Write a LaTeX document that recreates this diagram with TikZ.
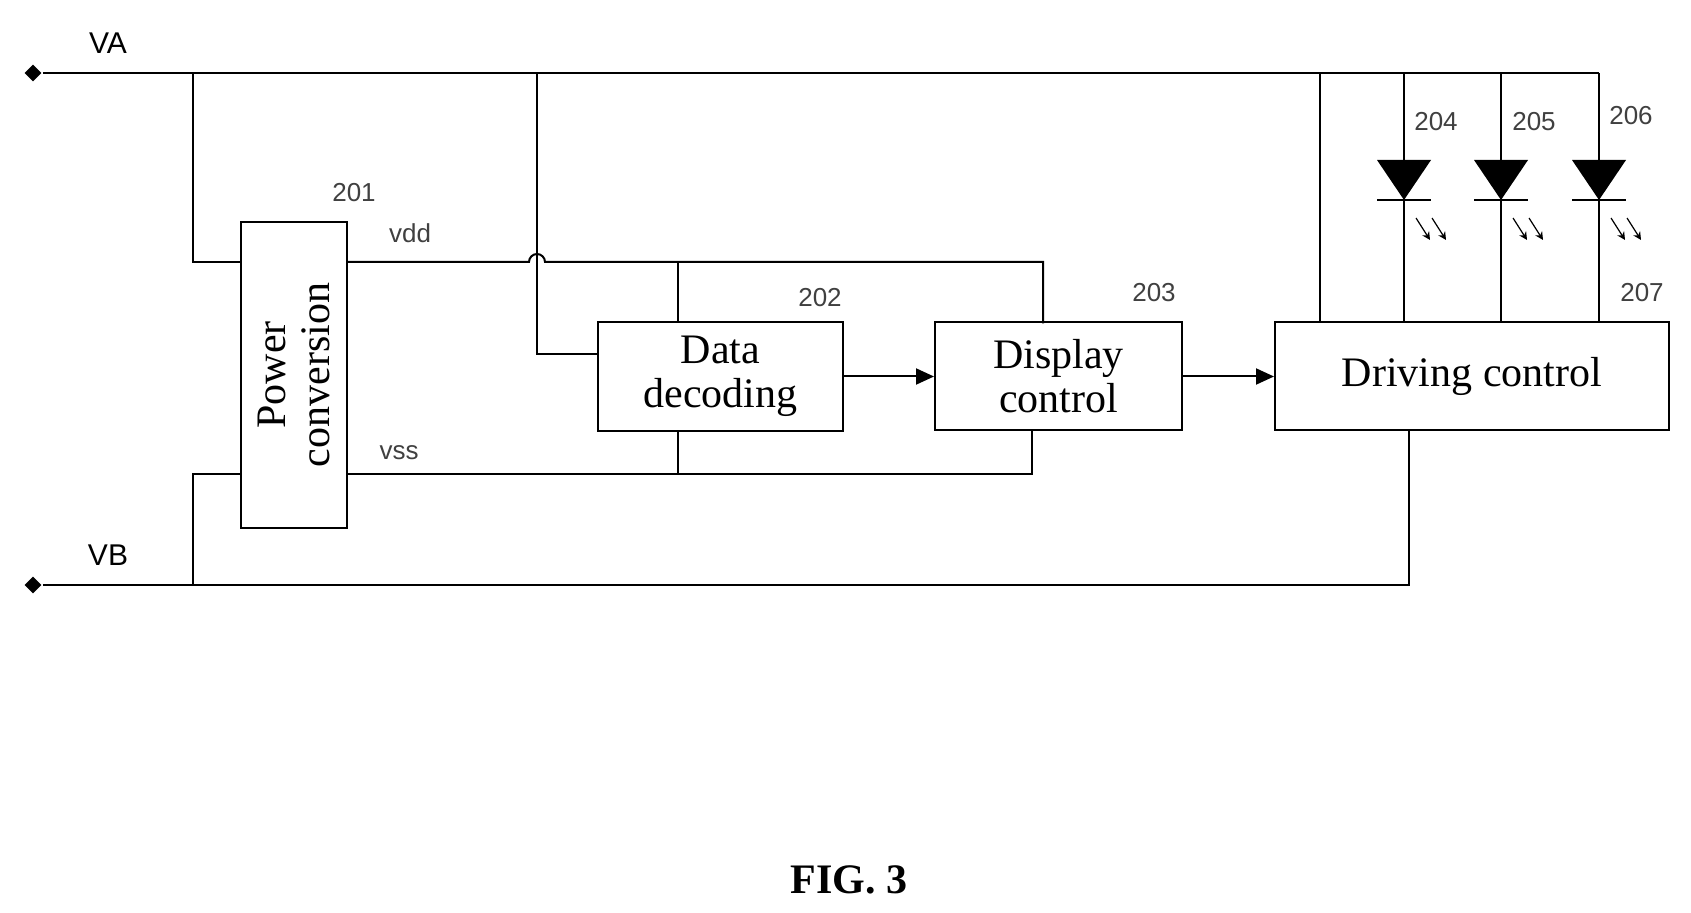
\documentclass[tikz,border=0pt]{standalone}
\usepackage{fontspec}
\setmainfont{Liberation Serif}
\newfontfamily\numfont{Liberation Sans}
\usetikzlibrary{arrows.meta,shapes.geometric}
\begin{document}
\begin{tikzpicture}[x=0.5pt,y=-0.5pt,line width=1pt,
    block/.style={draw, inner sep=0pt, font=\fontsize{21}{22}\selectfont, align=center},
    num/.style={font=\numfont\fontsize{13}{13}\selectfont, text=black!75},
    term/.style={diamond, fill, inner sep=2.2pt},
    sig/.style={-{Triangle[length=9pt,width=8pt]}}]
    \useasboundingbox (0,0) rectangle (1691,913);
    % terminals
    \node[term] (ta) at (33,73) {};
    \node[term] (tb) at (33,585) {};
    \node[font=\numfont\fontsize{15}{15}\selectfont] (va) at (108,43) {VA};
    \node[font=\numfont\fontsize{15}{15}\selectfont] (vb) at (108,555) {VB};
    % blocks
    \node[block, minimum width=53pt, minimum height=153pt] (pc) at (294,375) {};
    \node[rotate=90, font=\fontsize{21}{22}\selectfont, align=center] (pctxt) at (pc.center) {Power\\conversion};
    \node[block, minimum width=122.5pt, minimum height=54.5pt] (dd) at (720.5,376.5) {Data\\decoding};
    \node[block, minimum width=123.5pt, minimum height=54pt] (dc) at (1058.5,376.5) {Display\\control};
    \node[block, minimum width=197pt, minimum height=54pt] (drv) at (1472,376.5) {Driving control};
    % reference numerals
    \node[num] (n201) at (354,193) {201};
    \node[num] (n202) at (820,298) {202};
    \node[num] (n203) at (1154,293) {203};
    \node[num] (n204) at (1436,122) {204};
    \node[num] (n205) at (1534,122) {205};
    \node[num] (n206) at (1631,116) {206};
    \node[num] (n207) at (1642,293) {207};
    \node[num] (vdd) at (410,233) {vdd};
    \node[num] (vss) at (399,453) {vss};
    % supply rails
    \draw (ta) -- (1599,73);
    \draw (tb) -- (1409,585) -- (1409,429.5);
    \draw (193,73) -- (193,262) -- (241,262);
    \draw (193,585) -- (193,474) -- (241,474);
    \draw (537,73) -- (537,354) -- (598,354);
    \draw (347,262) -- (529,262) arc (180:360:8) -- (1043,262) -- (1043,323.5);
    \draw (347,474) -- (1032,474) -- (1032,429.5);
    \draw (678,262) -- (678,322);
    \draw (678,474) -- (678,431);
    \draw (1320,73) -- (1320,323.5);
    % LEDs
    \foreach \x/\n in {1404/a,1501/b,1599/c}{
      \coordinate (led\n) at (\x,200);
      \fill (\x-27,160) -- (\x+27,160) -- (led\n) -- cycle;
      \draw (\x-27,200) -- (\x+27,200);
      \draw (\x,73) -- (\x,160);
      \draw (led\n) -- (\x,323.5);
      \foreach \s in {0,16}
        \draw[line width=0.6pt, -{Stealth[length=4pt,width=4pt]}] (\x+12+\s,218) -- (\x+26+\s,240);
    }
    \draw[sig] (dd.east) -- (dc.west);
    \draw[sig] (dc.east) -- (drv.west);
    \node[font=\bfseries\fontsize{21}{22}\selectfont] (fig) at (849,880) {FIG. 3};
\end{tikzpicture}
\end{document}
